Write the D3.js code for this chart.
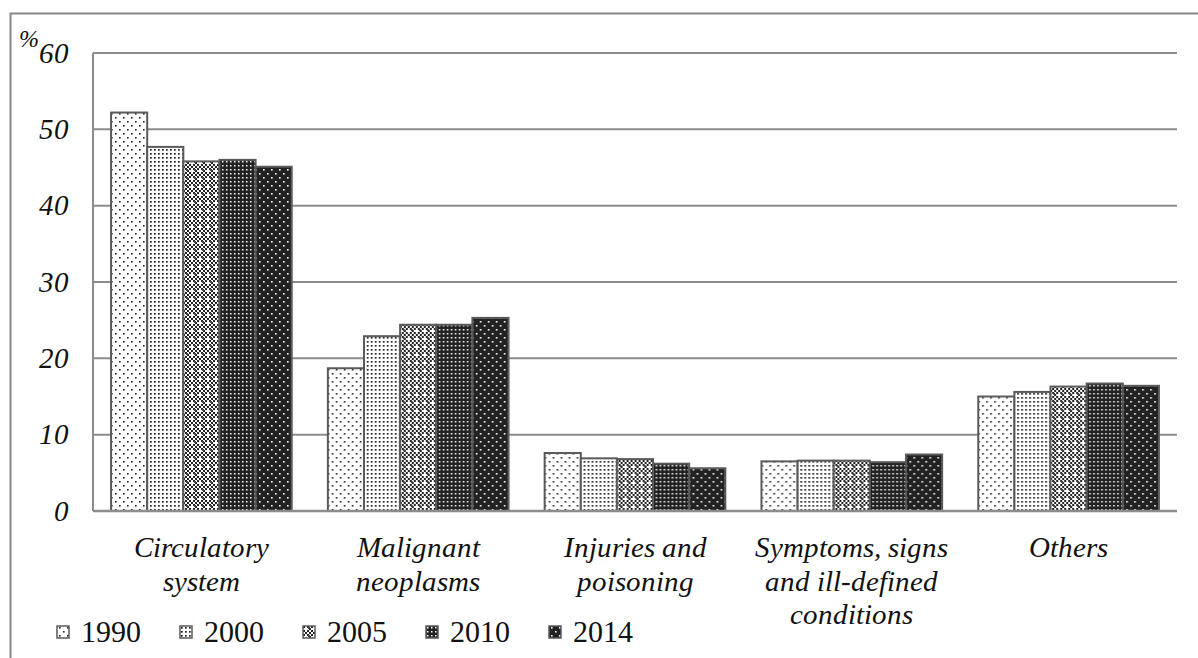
<!DOCTYPE html>
<html>
<head>
<meta charset="utf-8">
<script src="https://cdn.jsdelivr.net/npm/d3@7/dist/d3.min.js"></script>
<style>
  @font-face { font-family: 'RefSerif'; font-style: normal; src: local('Liberation Serif'), local('LiberationSerif'), local('Tinos'); }
  @font-face { font-family: 'RefSerif'; font-style: italic; src: local('Liberation Serif Italic'), local('LiberationSerif-Italic'), local('Tinos Italic'); }
  body { margin: 0; }
  #chart text { font-family: 'RefSerif', 'Tinos', 'Times New Roman', 'Liberation Serif', serif !important; }
</style>
</head>
<body>
<div id="chart"></div>
<script>
const width = 1198, height = 658;

// data
const categories = [
  ['Circulatory', 'system'],
  ['Malignant', 'neoplasms'],
  ['Injuries and', 'poisoning'],
  ['Symptoms, signs', 'and ill-defined', 'conditions'],
  ['Others']
];
const years = ['1990', '2000', '2005', '2010', '2014'];
const values1990 = [52.2, 18.7, 7.6, 6.5, 15.0];
const values2000 = [47.7, 22.9, 6.9, 6.6, 15.6];
const values2005 = [45.8, 24.4, 6.8, 6.6, 16.3];
const values2010 = [46.0, 24.4, 6.2, 6.4, 16.7];
const values2014 = [45.1, 25.3, 5.6, 7.4, 16.4];
const yTicks = [0, 10, 20, 30, 40, 50, 60];

const series = [values1990, values2000, values2005, values2010, values2014];

const margin = { left: 93, right: 21, top: 53, bottom: 147 };

const svg = d3.select('#chart').append('svg')
  .attr('width', width)
  .attr('height', height)
  .style('display', 'block');

// fill patterns, one per year
const defs = svg.append('defs');

function dotPattern(id, size, bg, dot, r, pts) {
  const p = defs.append('pattern')
    .attr('id', id)
    .attr('patternUnits', 'userSpaceOnUse')
    .attr('width', size).attr('height', size);
  p.append('rect').attr('width', size).attr('height', size).attr('fill', bg);
  pts.forEach(([x, y]) => {
    p.append('rect').attr('x', x).attr('y', y).attr('width', r).attr('height', r).attr('fill', dot);
  });
}
dotPattern('p1990', 8, '#fff', '#222', 1.6, [[2, 1], [6, 5]]);
dotPattern('p2000', 4, '#fff', '#222', 1.7, [[1, 1]]);
// 2005: grey checker with white holes
(function () {
  const p = defs.append('pattern')
    .attr('id', 'p2005')
    .attr('patternUnits', 'userSpaceOnUse')
    .attr('width', 8).attr('height', 8);
  p.append('rect').attr('width', 8).attr('height', 8).attr('fill', '#fff');
  for (let y = 0; y < 8; y += 2) {
    for (let x = 0; x < 8; x += 2) {
      if (((x + y) / 2) % 2 === 0) {
        p.append('rect').attr('x', x).attr('y', y).attr('width', 2).attr('height', 2).attr('fill', '#222');
      }
    }
  }
  p.append('rect').attr('x', 5).attr('y', 1).attr('width', 2).attr('height', 2).attr('fill', '#444');
  p.append('rect').attr('x', 2).attr('y', 2).attr('width', 2).attr('height', 2).attr('fill', '#fff');
})();
dotPattern('p2010', 4, '#222', '#fff', 1.5, [[1, 1]]);
dotPattern('p2014', 8, '#222', '#fff', 1.6, [[2, 1], [6, 5]]);
const fills = years.map(y => `url(#p${y})`);

const x0 = d3.scaleBand()
  .domain(d3.range(categories.length))
  .range([margin.left, width - margin.right])
  .paddingInner(0)
  .paddingOuter(0);

const x1 = d3.scaleBand()
  .domain(years)
  .range([0, x0.bandwidth()])
  .paddingOuter(0.5)
  .paddingInner(0);

const y = d3.scaleLinear()
  .domain([0, 60])
  .range([height - margin.bottom, margin.top]);

// outer frame
svg.append('path')
  .attr('d', `M10.5,${height} V13.5 H${width}`)
  .attr('fill', 'none')
  .attr('stroke', '#888')
  .attr('stroke-width', 2);

// gridlines
svg.append('g')
  .selectAll('line')
  .data(yTicks.filter(t => t > 0))
  .join('line')
  .attr('x1', margin.left).attr('x2', width - margin.right)
  .attr('y1', d => y(d)).attr('y2', d => y(d))
  .attr('stroke', '#8c8c8c')
  .attr('stroke-width', 2);

// y axis
svg.append('line')
  .attr('x1', margin.left).attr('x2', margin.left)
  .attr('y1', y(0)).attr('y2', y(60))
  .attr('stroke', '#8c8c8c')
  .attr('stroke-width', 2);
svg.append('g')
  .selectAll('text')
  .data(yTicks)
  .join('text')
  .attr('x', 69)
  .attr('y', d => y(d))
  .attr('dy', '0.33em')
  .attr('text-anchor', 'end')
  .attr('font-size', 29)
  .attr('font-style', 'italic')
  .attr('fill', '#111')
  .text(d => d);

svg.append('text')
  .attr('x', 19).attr('y', 47)
  .attr('font-size', 24)
  .attr('font-style', 'italic')
  .attr('fill', '#111')
  .text('%');

// bars
const groups = svg.append('g')
  .selectAll('g')
  .data(categories.map((c, i) => i))
  .join('g')
  .attr('transform', i => `translate(${x0(i)},0)`);

groups.selectAll('rect')
  .data(i => years.map((yr, k) => ({ year: yr, k, value: series[k][i] })))
  .join('rect')
  .attr('x', d => x1(d.year))
  .attr('width', x1.bandwidth())
  .attr('y', d => y(d.value))
  .attr('height', d => y(0) - y(d.value))
  .attr('fill', d => fills[d.k])
  .attr('stroke', '#5a5a5a')
  .attr('stroke-width', 2);

// baseline
svg.append('line')
  .attr('x1', margin.left).attr('x2', width - margin.right)
  .attr('y1', y(0)).attr('y2', y(0))
  .attr('stroke', '#8c8c8c')
  .attr('stroke-width', 2.5);

// category labels
const catLabels = svg.append('g')
  .selectAll('text')
  .data(categories)
  .join('text')
  .attr('x', (d, i) => x0(i) + x0.bandwidth() / 2)
  .attr('y', 557)
  .attr('text-anchor', 'middle')
  .attr('font-size', 29)
  .attr('font-style', 'italic')
  .attr('fill', '#111');
catLabels.selectAll('tspan')
  .data(d => d)
  .join('tspan')
  .attr('x', function () { return d3.select(this.parentNode).attr('x'); })
  .attr('dy', (d, i) => i === 0 ? 0 : 33.5)
  .text(d => d);

// legend
const legend = svg.append('g')
  .selectAll('g')
  .data(years)
  .join('g')
  .attr('transform', (d, i) => `translate(${57 + i * 123},626)`);
legend.append('rect')
  .attr('width', 12).attr('height', 12)
  .attr('fill', (d, i) => fills[i])
  .attr('stroke', '#5a5a5a')
  .attr('stroke-width', 1.5);
legend.append('text')
  .attr('x', 24).attr('y', 16)
  .attr('font-size', 30)
  .attr('fill', '#111')
  .text(d => d);
</script>
</body>
</html>
